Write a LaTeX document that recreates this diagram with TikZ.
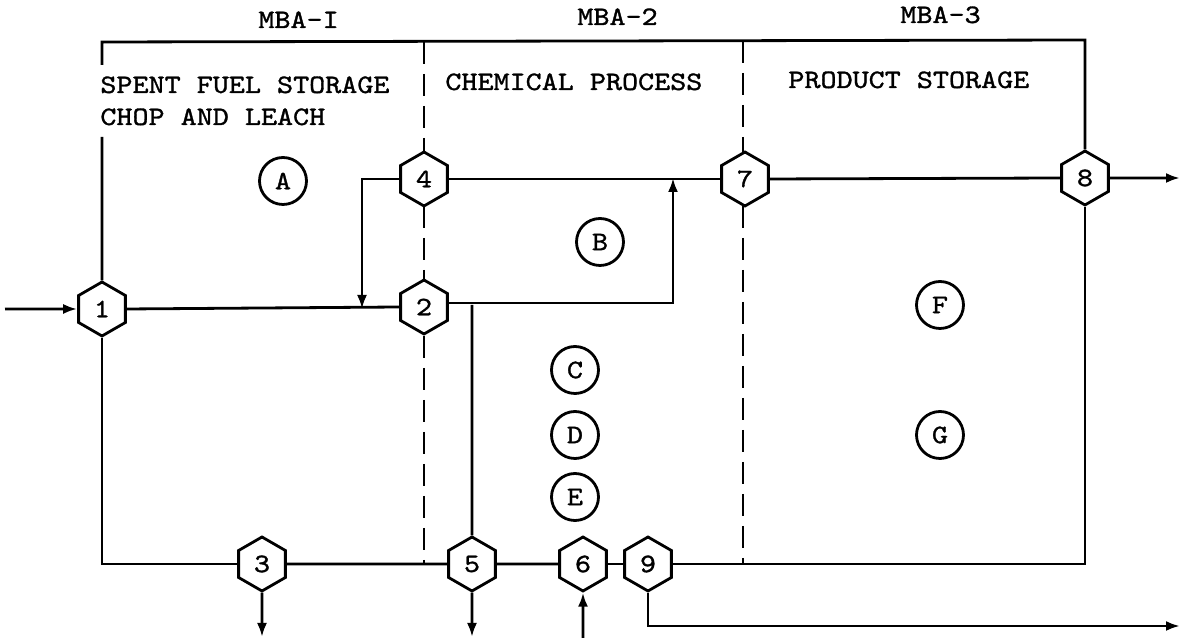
\documentclass[tikz,border=0pt]{standalone}
\usepackage{fontspec}
\usetikzlibrary{shapes.geometric,arrows.meta}
\newfontfamily\typ[FakeStretch=1.15,FakeBold=1.2]{lmmono10-regular.otf}
\begin{document}
\begin{tikzpicture}[x=0.5pt,y=-0.5pt,
  ln/.style={line width=1.4pt},
  arr/.style={line width=1.4pt,-{Latex[length=7pt,width=5pt]}},
  dsh/.style={line width=1.4pt,dash pattern=on 11pt off 5pt},
  txt/.style={inner sep=0pt,font=\typ\fontsize{13.3}{16}\selectfont},
  hexn/.style={draw,line width=1.4pt,regular polygon,regular polygon sides=6,shape border rotate=30,minimum size=27pt,inner sep=0pt,fill=white,font=\typ\fontsize{13.3}{16}\selectfont},
  circ/.style={draw,line width=1.4pt,circle,minimum size=23.5pt,inner sep=0pt,font=\typ\fontsize{13.3}{16}\selectfont}]
\useasboundingbox (0,0) rectangle (1191,640);
% labels
\node[txt,anchor=base west] (m1) at (258,28) {MBA-I};
\node[txt,anchor=base west] (m2) at (577,25) {MBA-2};
\node[txt,anchor=base west] (m3) at (900,23) {MBA-3};
\node[txt,anchor=base west] (t1) at (100,93) {SPENT FUEL STORAGE};
\node[txt,anchor=base west] (t2) at (100,125) {CHOP AND LEACH};
\node[txt,anchor=base west] (t3) at (445,90) {CHEMICAL PROCESS};
\node[txt,anchor=base west] (t4) at (788,88) {PRODUCT STORAGE};
% circles
\node[circ] (A) at (283,181) {A};
\node[circ] (B) at (600,242) {B};
\node[circ] (C) at (575,370) {C};
\node[circ] (D) at (575,435) {D};
\node[circ] (E) at (575,497) {E};
\node[circ] (F) at (940,305) {F};
\node[circ] (G) at (940,435) {G};
% coordinates
\coordinate (tl) at (102,42);
\coordinate (tr) at (1085,40);
\coordinate (g1) at (102,137);
\coordinate (g2) at (102,65);
\coordinate (in) at (5,309);
\coordinate (j1) at (362,309);
\coordinate (j2) at (673,178);
\coordinate (j3) at (472,305);
\coordinate (o8) at (1180,178);
\coordinate (o3) at (262,637);
\coordinate (o5) at (472,637);
\coordinate (i6) at (583,638);
\coordinate (o9) at (1180,626);
\coordinate (d1) at (424,42);
\coordinate (d2) at (424,564);
\coordinate (d3) at (743,41);
\coordinate (d4) at (743,564);
% dashed boundaries
\draw[dsh] (d1) -- (424,152);
\draw[dsh] (424,206) -- (424,280);
\draw[dsh] (424,336) -- (d2);
\draw[dsh] (d3) -- (743,152);
\draw[dsh] (743,206) -- (d4);
% hexagons
\node[hexn] (h1) at (102,309) {1};
\node[hexn] (h2) at (424,307) {2};
\node[hexn] (h4) at (424,179) {4};
\node[hexn] (h7) at (745,179) {7};
\node[hexn] (h8) at (1085,178) {8};
\node[hexn] (h3) at (262,564) {3};
\node[hexn] (h5) at (472,564) {5};
\node[hexn] (h6) at (583,564) {6};
\node[hexn] (h9) at (648,564) {9};
% connectors
\draw[ln] (h1.north) -- (g1);
\draw[ln] (g2) -- (tl) -- (tr) -- (h8.north);
\draw[ln] (h1.south) |- (h3.west);
\draw[ln] (h3.east) -- (h5.west);
\draw[ln] (h5.east) -- (h6.west);
\draw[ln] (h6.east) -- (h9.west);
\draw[ln] (h9.east) -| (h8.south);
\draw[arr] (in) -- (h1.west);
\draw[ln] (h1.east) -- (h2.west);
\draw[arr] (h4.west) -| (j1);
\draw[ln] (h4.east) -- (h7.west);
\draw[ln] (h7.east) -- (h8.west);
\draw[arr] (h8.east) -- (o8);
\draw[arr] ([yshift=2pt]h2.east) -| (j2);
\draw[ln] (j3) -- (h5.north);
\draw[arr] (h3.south) -- (o3);
\draw[arr] (h5.south) -- (o5);
\draw[arr] (i6) -- (h6.south);
\draw[arr] (h9.south) |- (o9);
\end{tikzpicture}
\end{document}
